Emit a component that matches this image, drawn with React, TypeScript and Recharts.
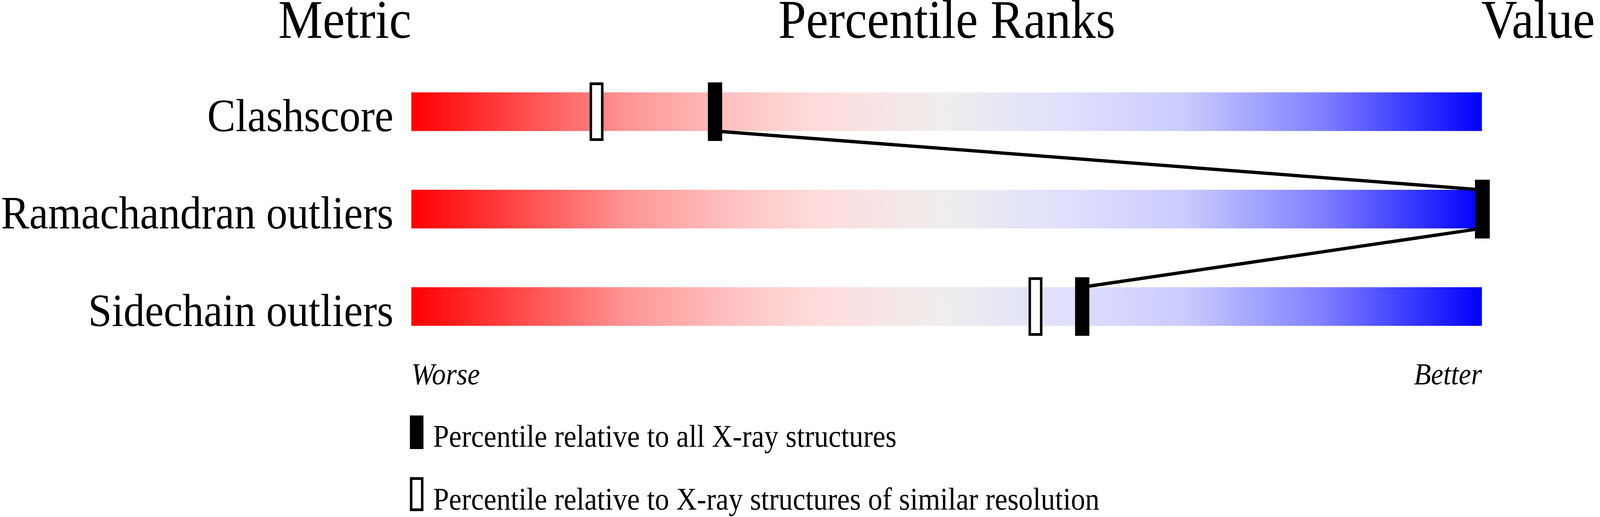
import React from 'react';
import { ComposedChart, Scatter, XAxis, YAxis, ReferenceArea } from 'recharts';

// rows of the slider, top to bottom
const metrics = ['Clashscore', 'Ramachandran outliers', 'Sidechain outliers'];
const metricValues = ['10', '0', '1.6%'];
// percentile relative to all X-ray structures (filled marks)
const pctAll = [28.3, 100, 62.6];
// percentile relative to structures of similar resolution (open marks)
const pctSimilar = [17.3, 100, 58.3];
const endLabels = ['Worse', 'Better'];
const headers = ['Metric', 'Percentile Ranks', 'Value'];
const legendLabels = [
  'Percentile relative to all X-ray structures',
  'Percentile relative to X-ray structures of similar resolution',
];

const W = 4485;
const H = 1324;
const BAR_HALF = 0.198;
const FONT = "'Liberation Serif', 'Times New Roman', Times, serif";

const rowIds = metrics.map((_, i) => i);
const allPoints = pctAll.map((x, i) => ({ x, y: i }));
const similarPoints = pctSimilar.map((x, i) => ({ x, y: i }));
// join the filled marks: bottom of one bar to the top of the next
const linkPoints = pctAll
  .flatMap((x, i) => [
    { x, y: i - BAR_HALF },
    { x, y: i + BAR_HALF },
  ])
  .slice(1, -1);

const FilledMark = (p: any) => (
  <rect x={p.cx - 18} y={p.cy - 75} width={40} height={150} fill="#000" />
);

const HollowMark = (p: any) => (
  <rect
    x={p.cx - 16}
    y={p.cy - 71.5}
    width={32}
    height={143}
    fill="#fff"
    stroke="#000"
    strokeWidth={7}
  />
);

const NoMark = () => <g />;

const MetricTick = ({ x, y, payload }: any) => (
  <text x={x} y={y + 50} textAnchor="end" fontFamily={FONT} fontSize={119} fill="#000">
    {metrics[payload.value]}
  </text>
);

const ValueTick = ({ x, y, payload }: any) => (
  <text x={x} y={y + 50} textAnchor="start" fontFamily={FONT} fontSize={119} fill="#000">
    {metricValues[payload.value]}
  </text>
);

const EndTick = ({ x, y, payload }: any) => {
  const isWorse = payload.value === 0;
  return (
    <text
      x={x}
      y={y + 74}
      textAnchor={isWorse ? 'start' : 'end'}
      fontFamily={FONT}
      fontStyle="italic"
      fontSize={78}
      fill="#000"
    >
      {isWorse ? endLabels[0] : endLabels[1]}
    </text>
  );
};

export default function App() {
  // the browser caps the viewport width, so squeeze the drawing to fit it
  const sx = typeof window !== 'undefined' ? Math.min(1, window.innerWidth / W) : 1;
  return (
    <div
      style={{
        position: 'absolute',
        left: 0,
        top: 0,
        width: W,
        height: H,
        background: '#fff',
        transform: `scale(${sx}, 1)`,
        transformOrigin: '0 0',
      }}
    >
      <svg width={0} height={0} style={{ position: 'absolute' }}>
        <defs>
          <linearGradient id="sliderGradient" x1="0" y1="0" x2="1" y2="0">
            <stop offset="0%" stopColor="#ff0000" />
            <stop offset="10%" stopColor="#ff4848" />
            <stop offset="20%" stopColor="#ff9494" />
            <stop offset="30%" stopColor="#ffc2c2" />
            <stop offset="38%" stopColor="#ffdcdc" />
            <stop offset="50%" stopColor="#eeeeee" />
            <stop offset="62%" stopColor="#dedeff" />
            <stop offset="72%" stopColor="#ccccff" />
            <stop offset="85%" stopColor="#8080ff" />
            <stop offset="100%" stopColor="#0000ff" />
          </linearGradient>
        </defs>
      </svg>

      <ComposedChart
        width={W}
        height={H}
        margin={{ top: 36.5, right: 0, bottom: 314.25, left: 0 }}
      >
        <XAxis
          type="number"
          dataKey="x"
          domain={[0, 100]}
          ticks={[0, 100]}
          interval={0}
          height={100}
          axisLine={false}
          tickLine={false}
          tickSize={0}
          tickMargin={0}
          tick={<EndTick />}
        />
        <YAxis
          yAxisId="left"
          type="number"
          dataKey="y"
          domain={[-1, 2.5]}
          reversed
          ticks={rowIds}
          interval={0}
          width={1153}
          axisLine={false}
          tickLine={false}
          tickSize={0}
          tickMargin={50}
          tick={<MetricTick />}
        />
        <YAxis
          yAxisId="right"
          orientation="right"
          type="number"
          domain={[-1, 2.5]}
          reversed
          ticks={rowIds}
          interval={0}
          width={331}
          axisLine={false}
          tickLine={false}
          tickSize={0}
          tickMargin={50}
          tick={<ValueTick />}
        />
        {rowIds.map((i) => (
          <ReferenceArea
            key={i}
            yAxisId="left"
            x1={0}
            x2={100}
            y1={i - BAR_HALF}
            y2={i + BAR_HALF}
            fill="url(#sliderGradient)"
            fillOpacity={1}
            stroke="none"
          />
        ))}
        <Scatter
          yAxisId="left"
          data={linkPoints}
          stroke="#000"
          strokeWidth={8.5}
          line={{ stroke: '#000', strokeWidth: 8.5 }}
          shape={<NoMark />}
          isAnimationActive={false}
        />
        <Scatter yAxisId="left" data={similarPoints} shape={<HollowMark />} isAnimationActive={false} />
        <Scatter yAxisId="left" data={allPoints} shape={<FilledMark />} isAnimationActive={false} />
      </ComposedChart>

      <svg
        width={W}
        height={H}
        style={{ position: 'absolute', left: 0, top: 0, pointerEvents: 'none' }}
      >
        <g fontFamily={FONT} fill="#000">
          <text x={1153} y={97} fontSize={140} textAnchor="end">{headers[0]}</text>
          <text x={2654} y={97} fontSize={140} textAnchor="middle">{headers[1]}</text>
          <text x={4152} y={97} fontSize={140} textAnchor="start">{headers[2]}</text>

          <rect x={1149} y={1064} width={38} height={86} fill="#000" />
          <text x={1214} y={1144} fontSize={80}>{legendLabels[0]}</text>
          <rect x={1152.5} y={1225.5} width={31} height={80} fill="#fff" stroke="#000" strokeWidth={7} />
          <text x={1214} y={1305} fontSize={80}>{legendLabels[1]}</text>
        </g>
      </svg>
    </div>
  );
}
